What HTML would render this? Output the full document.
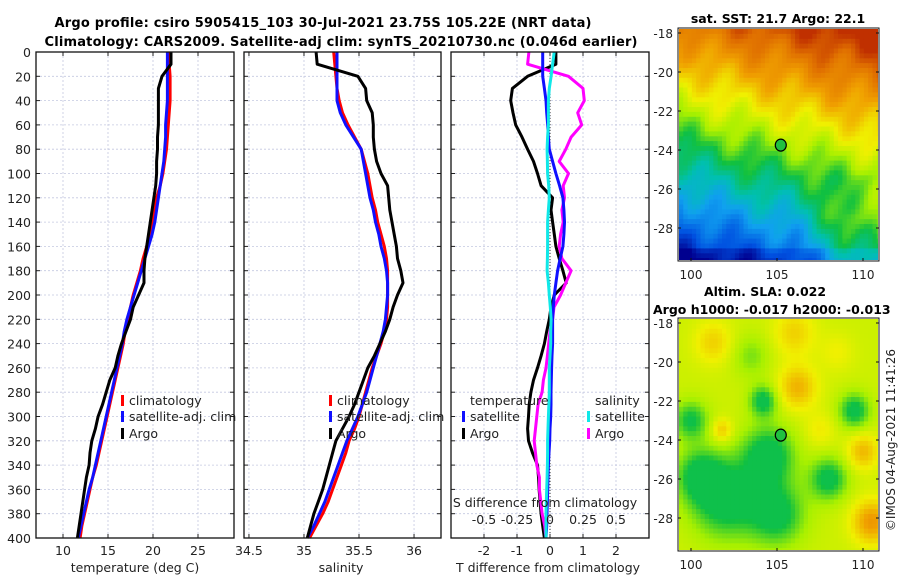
<!DOCTYPE html>
<html><head><meta charset="utf-8"><style>
html,body{margin:0;padding:0;background:#fff;width:900px;height:580px;overflow:hidden}
svg{display:block;font-family:"DejaVu Sans","Liberation Sans",sans-serif}
</style></head><body>
<svg id="fig" width="900" height="580" viewBox="0 0 900 580" xmlns="http://www.w3.org/2000/svg">
<defs>
<clipPath id="clipA"><rect x="679" y="29" width="199" height="231"/></clipPath>
<clipPath id="clipB"><rect x="679" y="319" width="199" height="231"/></clipPath>
</defs>
<text x="323" y="27" font-size="13" font-weight="bold" text-anchor="middle" textLength="537">Argo profile: csiro 5905415_103 30-Jul-2021 23.75S 105.22E (NRT data)</text>
<text x="341" y="46" font-size="13" font-weight="bold" text-anchor="middle" textLength="593">Climatology: CARS2009. Satellite-adj clim: synTS_20210730.nc (0.046d earlier)</text>
<g id="panels"></g>
<g id="maps"></g>
<text x="778" y="23" font-size="12.5" font-weight="bold" text-anchor="middle">sat. SST: 21.7 Argo: 22.1</text>
<text x="765" y="296" font-size="12.5" font-weight="bold" text-anchor="middle">Altim. SLA: 0.022</text>
<text x="653" y="314" font-size="12.5" font-weight="bold">Argo h1000: -0.017 h2000: -0.013</text>
<text transform="translate(895,440) rotate(-90)" font-size="12" text-anchor="middle" fill="#222">©IMOS 04-Aug-2021 11:41:26</text>
</svg>
<script>
// ---- data ----
const depths = [0,10,20,30,40,50,60,70,80,90,100,110,120,130,140,150,160,170,180,190,200,210,220,230,240,250,260,270,280,290,300,310,320,330,340,350,360,370,380,390,400];
const tempClim = [21.7,21.8,21.9,21.9,21.9,21.8,21.7,21.6,21.5,21.3,21.1,20.8,20.4,20.1,19.9,19.6,19.3,18.9,18.6,18.2,17.8,17.5,17.2,16.9,16.7,16.4,16.1,15.8,15.5,15.2,14.9,14.6,14.3,14.0,13.7,13.3,13.0,12.7,12.4,12.1,11.9];
const tempSat  = [21.6,21.6,21.6,21.6,21.6,21.5,21.4,21.4,21.3,21.2,21.0,20.8,20.6,20.4,20.2,19.9,19.5,19.1,18.7,18.3,17.9,17.5,17.1,16.8,16.6,16.3,16.0,15.7,15.4,15.1,14.8,14.5,14.2,13.9,13.6,13.3,12.9,12.6,12.3,12.0,11.7];
const tempArgo = [22.0,22.0,21.0,20.6,20.6,20.6,20.6,20.5,20.5,20.4,20.4,20.3,20.1,19.9,19.7,19.5,19.3,19.1,19.0,19.0,18.4,17.8,17.5,17.0,16.5,16.1,15.8,15.2,14.8,14.4,13.9,13.6,13.2,13.0,12.9,12.6,12.4,12.2,12.0,11.8,11.6];
const salClim = [35.27,35.28,35.29,35.30,35.32,35.35,35.40,35.46,35.52,35.55,35.58,35.60,35.62,35.65,35.67,35.70,35.73,35.75,35.76,35.76,35.76,35.76,35.75,35.73,35.70,35.66,35.62,35.59,35.56,35.53,35.50,35.46,35.41,35.38,35.34,35.30,35.26,35.22,35.17,35.11,35.05];
const salSat  = [35.30,35.30,35.30,35.30,35.30,35.33,35.38,35.45,35.52,35.54,35.56,35.58,35.60,35.63,35.65,35.68,35.70,35.73,35.75,35.76,35.76,35.75,35.74,35.72,35.69,35.66,35.63,35.60,35.57,35.53,35.49,35.44,35.39,35.35,35.31,35.27,35.23,35.19,35.14,35.09,35.03];
const salArgo = [35.11,35.12,35.49,35.56,35.57,35.62,35.63,35.63,35.64,35.66,35.70,35.76,35.77,35.78,35.80,35.82,35.84,35.85,35.88,35.90,35.85,35.81,35.78,35.74,35.69,35.64,35.58,35.54,35.50,35.46,35.41,35.35,35.29,35.26,35.23,35.20,35.17,35.13,35.09,35.06,35.03];
const dTsat  = [-0.22,-0.22,-0.22,-0.17,-0.12,-0.10,-0.07,-0.05,-0.02,0.08,0.18,0.29,0.39,0.42,0.44,0.42,0.39,0.31,0.23,0.18,0.13,0.10,0.08,0.08,0.08,0.06,0.05,0.04,0.03,0.03,0.02,0.0,-0.01,-0.03,-0.05,-0.06,-0.07,-0.08,-0.09,-0.10,-0.12];
const dTargo = [0.18,0.18,-0.68,-1.14,-1.19,-1.12,-1.04,-0.85,-0.68,-0.50,-0.38,-0.27,0.08,0.03,0.08,0.13,0.18,0.28,0.39,0.49,0.13,0.03,-0.02,-0.10,-0.17,-0.27,-0.38,-0.50,-0.58,-0.63,-0.65,-0.68,-0.65,-0.53,-0.38,-0.35,-0.33,-0.30,-0.27,-0.22,-0.17];
const dSsat  = [0.032,0.020,0.008,-0.005,-0.012,-0.012,-0.012,-0.018,-0.022,-0.020,-0.018,-0.010,-0.005,-0.012,-0.018,-0.018,-0.018,-0.020,-0.022,-0.012,-0.005,0.002,0.008,0.005,0.005,0.0,-0.005,-0.005,-0.005,-0.008,-0.012,-0.015,-0.018,-0.018,-0.020,-0.022,-0.025,-0.028,-0.030,-0.030,-0.030];
const dSargo = [-0.16,-0.17,0.14,0.25,0.26,0.21,0.24,0.16,0.12,0.07,0.14,0.10,0.11,0.09,0.10,0.08,0.07,0.09,0.16,0.12,0.08,0.03,0.02,0.0,-0.01,-0.02,-0.03,-0.05,-0.06,-0.09,-0.10,-0.11,-0.12,-0.11,-0.10,-0.08,-0.08,-0.07,-0.06,-0.04,-0.03];
const depthTicks = [0,20,40,60,80,100,120,140,160,180,200,220,240,260,280,300,320,340,360,380,400];
const tempTicks = [10,15,20,25];
const salTicks = [34.5,35,35.5,36];
const salTickLabels = ["34.5","35","35.5","36"];
const dTTicks = [-2,-1,0,1,2];
const dSTicks = [-0.5,-0.25,0,0.25,0.5];
const dSTickLabels = ["-0.5","-0.25","0","0.25","0.5"];

const NS="http://www.w3.org/2000/svg";
const Y0=52, Y1=538;
const yDepth = d => Y0 + d/400*(Y1-Y0);
function el(tag, attrs, parent){const e=document.createElementNS(NS,tag);for(const k in attrs)e.setAttribute(k,attrs[k]);parent.appendChild(e);return e;}
const panels=document.getElementById('panels');

function panel(name, x0, x1, xmin, xmax){
  const g=el('g',{},panels);
  
  
  const sx = v => x0 + (v-xmin)/(xmax-xmin)*(x1-x0);
  return {g, sx};
}
function grid(p, x0, x1, xt){
  depthTicks.forEach(d=>{
    const y=yDepth(d);
    const l=el('line',{x1:x0,x2:x1,y1:y,y2:y,stroke:'#c4c8e0','stroke-width':0.8,'stroke-dasharray':'2,2'},p.g);
    
    
    el('line',{x1:x0,x2:x0+4,y1:y,y2:y,stroke:'#222','stroke-width':1},p.g);
    el('line',{x1:x1-4,x2:x1,y1:y,y2:y,stroke:'#222','stroke-width':1},p.g);
  });
  xt.forEach(v=>{
    const x=p.sx(v);
    const l=el('line',{x1:x,x2:x,y1:Y0,y2:Y1,stroke:'#c4c8e0','stroke-width':0.8,'stroke-dasharray':'2,2'},p.g);
    
    
    el('line',{x1:x,x2:x,y1:Y1-4,y2:Y1,stroke:'#222'},p.g);
    el('line',{x1:x,x2:x,y1:Y0,y2:Y0+4,stroke:'#222'},p.g);
  });
}
function frame(p,x0,x1){
  const r=el('rect',{x:x0,y:Y0,width:x1-x0,height:Y1-Y0,fill:'none',stroke:'#111','stroke-width':1.3},p.g);
  
  
}
function curve(p, vals, sx, color, w, name){
  const pts=vals.map((v,i)=>sx(v).toFixed(1)+','+yDepth(depths[i]).toFixed(1)).join(' ');
  const pl=el('polyline',{points:pts,fill:'none',stroke:color,'stroke-width':w,'stroke-linejoin':'round'},p.g);
  
  
}
function text(p, x, y, s, opts, name){
  const t=el('text',Object.assign({x:x,y:y,'font-size':12.5,fill:'#222'},opts||{}),p.g);
  t.textContent=s;
  
  
  return t;
}
function legendMark(p,x,y,color,name){
  const r=el('rect',{x:x,y:y-11,width:3,height:11,fill:color},p.g);
  
  
}

// Panel 1: temperature
const P1=panel('temperature-panel',36,234,7,29);
grid(P1,36,234,tempTicks);
curve(P1,tempClim,P1.sx,'#ff0000',3,'temp-climatology-line');
curve(P1,tempSat,P1.sx,'#1010ff',3,'temp-satellite-line');
curve(P1,tempArgo,P1.sx,'#000',3,'temp-argo-line');
frame(P1,36,234);
depthTicks.forEach(d=>text(P1,31,yDepth(d)+5,String(d),{'text-anchor':'end'},'depth-tick-label'));
tempTicks.forEach(v=>text(P1,P1.sx(v),555,String(v),{'text-anchor':'middle'},'temp-tick-label'));
text(P1,135,572,'temperature (deg C)',{'text-anchor':'middle'},'temp-axis-title');
legendMark(P1,121,406,'#ff0000','legend-climatology-marker');
text(P1,129,405,'climatology',{},'legend-climatology');
legendMark(P1,121,422,'#1010ff','legend-satellite-marker');
text(P1,129,421,'satellite-adj. clim',{},'legend-satellite');
legendMark(P1,121,439,'#000','legend-argo-marker');
text(P1,129,438,'Argo',{},'legend-argo');

// Panel 2: salinity
const P2=panel('salinity-panel',244,441,34.455,36.245);
grid(P2,244,441,salTicks);
curve(P2,salClim,P2.sx,'#ff0000',3,'sal-climatology-line');
curve(P2,salSat,P2.sx,'#1010ff',3,'sal-satellite-line');
curve(P2,salArgo,P2.sx,'#000',3,'sal-argo-line');
frame(P2,244,441);
salTicks.forEach((v,i)=>text(P2,P2.sx(v),555,salTickLabels[i],{'text-anchor':'middle'},'sal-tick-label'));
text(P2,341,572,'salinity',{'text-anchor':'middle'},'sal-axis-title');
legendMark(P2,329,406,'#ff0000','legend-climatology-marker');
text(P2,337,405,'climatology',{},'legend-climatology');
legendMark(P2,329,422,'#1010ff','legend-satellite-marker');
text(P2,337,421,'satellite-adj. clim',{},'legend-satellite');
legendMark(P2,329,439,'#000','legend-argo-marker');
text(P2,337,438,'Argo',{},'legend-argo');

// Panel 3: differences
const P3=panel('difference-panel',451,649,-3.0,3.0);
const sxS = v => P3.sx(v*4);
grid(P3,451,649,dTTicks);
const zl=el('line',{x1:P3.sx(0),x2:P3.sx(0),y1:Y0,y2:Y1,stroke:'#333','stroke-width':1,'stroke-dasharray':'1,2'},P3.g);


curve(P3,dTargo,P3.sx,'#000',3,'dT-argo-line');
curve(P3,dSargo,sxS,'#ff00ff',3,'dS-argo-line');
curve(P3,dTsat,P3.sx,'#1010ff',3,'dT-satellite-line');
curve(P3,dSsat,sxS,'#10e8e8',3,'dS-satellite-line');
frame(P3,451,649);
dTTicks.forEach(v=>text(P3,P3.sx(v),555,String(v),{'text-anchor':'middle'},'dT-tick-label'));
text(P3,548,572,'T difference from climatology',{'text-anchor':'middle'},'dT-axis-title');
text(P3,545,507,'S difference from climatology',{'text-anchor':'middle'},'dS-axis-title');
dSTicks.forEach((v,i)=>text(P3,sxS(v),524,dSTickLabels[i],{'text-anchor':'middle'},'dS-tick-label'));
text(P3,470,405,'temperature',{},'legend-temperature-heading');
legendMark(P3,462,422,'#1010ff','legend-dT-satellite-marker');
text(P3,470,421,'satellite',{},'legend-dT-satellite');
legendMark(P3,462,439,'#000','legend-dT-argo-marker');
text(P3,470,438,'Argo',{},'legend-dT-argo');
text(P3,595,405,'salinity',{},'legend-salinity-heading');
legendMark(P3,587,422,'#10e8e8','legend-dS-satellite-marker');
text(P3,595,421,'satellite',{},'legend-dS-satellite');
legendMark(P3,587,439,'#ff00ff','legend-dS-argo-marker');
text(P3,595,438,'Argo',{},'legend-dS-argo');

// ---- maps ----
const cmapStops=[[0,[0,0,143]],[0.12,[0,80,224]],[0.25,[16,160,240]],[0.35,[0,192,176]],[0.45,[16,192,64]],[0.55,[168,240,0]],[0.65,[240,240,0]],[0.78,[240,160,0]],[0.9,[224,112,0]],[1,[192,48,0]]];
function cmap(v){v=Math.max(0,Math.min(1,v));for(let i=1;i<cmapStops.length;i++){const[a,ca]=cmapStops[i-1],[b,cb]=cmapStops[i];if(v<=b){const t=(v-a)/(b-a);return 'rgb('+ca.map((c,k)=>Math.round(c+(cb[k]-c)*t)).join(',')+')';}}return 'rgb(192,48,0)';}
const maps=document.getElementById('maps');
const lonTicks=[100,105,110];
const latTicks=[-18,-20,-22,-24,-26,-28];
const argoLon=105.22, argoLat=-23.75;
function drawMap(name, top, bottom, y0, y1, clip, field, step){
  const g=el('g',{},maps);
  
  
  const x0=679,x1=878;
  const pxLon=17.2, pxLat=(bottom-top)/10;
  const lon=x=>691+(x-100)*pxLon;
  const lat=y=>top+(-18-y)*pxLat;
  const lonMin=100-(691-x0)/pxLon, lonMax=100+(x1-691)/pxLon;
  const latTop=-18+(top-y0)/pxLat, latBot=-18-(y1-top)/pxLat;
  const cg=el('g',{'clip-path':'url(#'+clip+')'},g);
  for(let lo=lonMin-step;lo<lonMax;lo+=step){
    for(let la=latTop+step;la>latBot-step;la-=step){
      el('rect',{x:lon(lo).toFixed(1),y:lat(la).toFixed(1),width:(step*pxLon+0.7).toFixed(1),height:(step*pxLat+0.7).toFixed(1),fill:cmap(field(lo+step/2,la-step/2))},cg);
    }
  }
  const fr=el('rect',{x:x0-1,y:y0-1,width:x1-x0+2,height:y1-y0+2,fill:'none',stroke:'#111','stroke-width':1},g);
  
  
  latTicks.forEach(v=>{const y=lat(v);el('line',{x1:x0-1,x2:x0+2,y1:y,y2:y,stroke:'#111'},g);el('line',{x1:x1-2,x2:x1+1,y1:y,y2:y,stroke:'#111'},g);
    const t=el('text',{x:673,y:y+5,'font-size':12,'text-anchor':'end',fill:'#222'},g);t.textContent=String(v);
    
    });
  lonTicks.forEach(v=>{const x=lon(v);el('line',{x1:x,x2:x,y1:y1-2,y2:y1+1,stroke:'#111'},g);
    const t=el('text',{x:x,y:y1+19,'font-size':12,'text-anchor':'middle',fill:'#222'},g);t.textContent=String(v);
    
    });
  const c=el('ellipse',{cx:lon(argoLon),cy:lat(argoLat),rx:5.5,ry:6,fill:'#20c040',stroke:'#000','stroke-width':1.2},g);
  
  
}
function sstField(lo,la){
  const L=la+0.25*(lo-105)+0.45*Math.sin(lo*1.7+la*0.9)+0.3*Math.sin(lo*3.1-la*2.3);
  let v=0.14+(L+29.5)/11.5*0.8;
  const e=Math.max(0,Math.min(1,(lo-106)/3))*Math.max(0,Math.min(1,(-25.5-la)/2));
  v+=0.16*e;
  if(la<-29) v-=0.05;
  return v;
}
const blobs=[[104.2,-22,0.8,-0.18],[109.5,-22.5,0.9,-0.18],[100,-23,1.0,-0.16],[104.5,-24.8,1.5,-0.2],[102,-27,2.0,-0.2],[105,-27.8,1.6,-0.18],[108,-26,1.1,-0.18],[100.5,-25.8,1.3,-0.16],[106.2,-21.3,1.1,0.15],[101.8,-23.5,0.6,0.12],[110,-24.6,0.9,0.14],[110.5,-28.2,1.1,0.2],[101.3,-19,1.1,0.1],[106,-18.5,1.2,0.1],[103.5,-19.7,1.1,-0.08],[108.5,-19.5,1.0,0.05],[107.5,-23.5,0.9,0.06]];
function slaField(lo,la){
  let v=0.6;
  blobs.forEach(b=>{const d2=((lo-b[0])**2+(la-b[1])**2)/(b[2]*b[2]);v+=b[3]*Math.exp(-d2);});
  return Math.max(0.44,v);
}
drawMap('sst-map',33,228,29,260,'clipA',sstField,0.25);
drawMap('sla-map',323,518,319,550,'clipB',slaField,0.25);
</script>
</body></html>
